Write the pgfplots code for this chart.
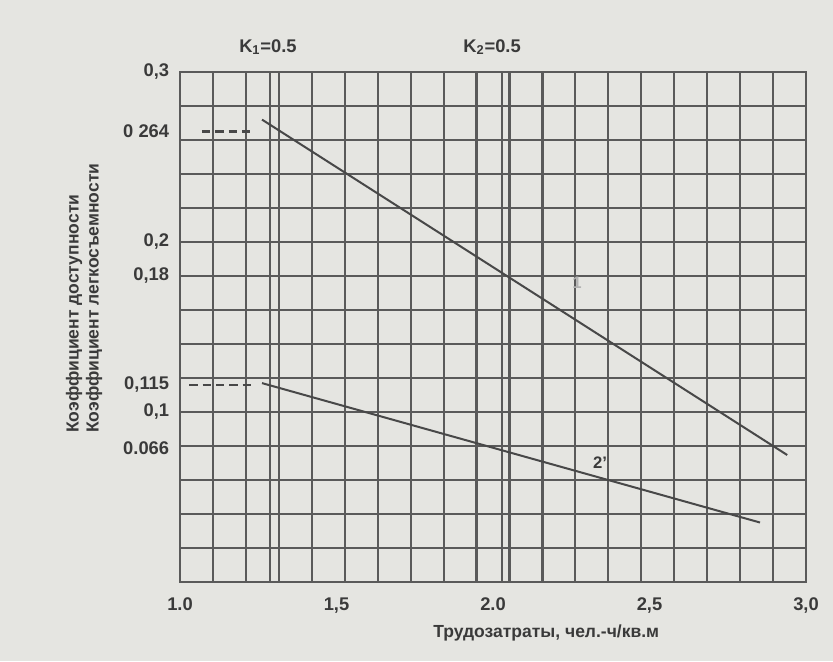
\documentclass[border=0pt]{standalone}
\usepackage{fontspec}
\setmainfont{Liberation Sans}
\usepackage{pgfplots}
\pgfplotsset{compat=1.18}
\definecolor{paper}{HTML}{E5E5E1}
\definecolor{ink}{HTML}{5A5A5A}
\definecolor{line}{HTML}{484848}
\definecolor{txt}{HTML}{3A3A3A}
\pgfplotsset{base/.style={
  scale only axis, width=375.6pt, height=306pt,
  xmin=1, xmax=3, ymin=0, ymax=0.3,
  major tick length=0pt, minor tick length=0pt,
  clip=false,
}}
\begin{document}
\begin{tikzpicture}
\useasboundingbox (-108pt,-47.4pt) rectangle (391.8pt,349.2pt);
\fill[paper] (-108pt,-47.4pt) rectangle (391.8pt,349.2pt);
% grid axis
\begin{axis}[base,
  axis line style={ink, line width=1.4pt},
  xtick={1,1.10526,1.21053,1.2875,1.31579,1.42105,1.52632,1.63158,1.73684,1.84211,1.94737,2.0288,2.05263,2.15789,2.26316,2.36842,2.47368,2.57895,2.68421,2.78947,2.89474,3},
  ytick={0,0.02,0.04,0.06,0.08,0.1,0.12,0.14,0.16,0.18,0.2,0.22,0.24,0.26,0.28,0.3},
  xticklabels={}, yticklabels={},
  grid=major,
  major grid style={ink, line width=1.3pt},
]
% upper line
\addplot[line, line width=1.2pt] coordinates {(1.262,0.272) (2.94,0.0747)};
% lower line
\addplot[line, line width=1.2pt] coordinates {(1.262,0.117) (2.853,0.035)};
% dashed reference lines
\addplot[line, line width=1.3pt, dash pattern=on 5pt off 3pt] coordinates {(1.07,0.265) (1.233,0.265)};
\addplot[line, line width=1.3pt, dash pattern=on 5pt off 3pt] coordinates {(1.03,0.116) (1.233,0.116)};
% annotations
\node[font=\bfseries\fontsize{11}{13}\selectfont, text=txt] at (axis cs:1.281,0.3) [yshift=15pt] {K\textsubscript{1}=0.5};
\node[font=\bfseries\fontsize{11}{13}\selectfont, text=txt] at (axis cs:1.997,0.3) [yshift=15pt] {K\textsubscript{2}=0.5};
\node[font=\bfseries\fontsize{10}{12}\selectfont, text=txt] at (axis cs:2.342,0.07) {2'};
\node[font=\bfseries\fontsize{10}{12}\selectfont, text=black!30] at (axis cs:2.268,0.176) {1};
\node[font=\bfseries\fontsize{10.5}{12}\selectfont, text=txt] at (axis cs:2.17,0) [yshift=-30.6pt] {Трудозатраты, чел.-ч/кв.м};
\end{axis}
% label axis
\begin{axis}[base,
  axis line style={draw=none},
  tick style={draw=none},
  xtick={1,1.5,2,2.5,3},
  xticklabels={{1.0},{1,5},{2.0},{2,5},{3,0}},
  ytick={0.079,0.1,0.116,0.18,0.2,0.265,0.3},
  yticklabels={{0.066},{0,1},{0,115},{0,18},{0,2},{0 264},{0,3}},
  tick label style={font=\bfseries\fontsize{11}{13}\selectfont, text=txt},
  xticklabel style={yshift=-6pt},
  yticklabel style={xshift=-3pt},
]
\end{axis}
\node[rotate=90, anchor=west, font=\bfseries\fontsize{10.5}{12}\selectfont, text=txt] at (-63.6pt,86pt) {Коэффициент доступности};
\node[rotate=90, anchor=west, font=\bfseries\fontsize{10.5}{12}\selectfont, text=txt] at (-51.6pt,86pt) {Коэффициент легкосъемности};
\end{tikzpicture}
\end{document}
